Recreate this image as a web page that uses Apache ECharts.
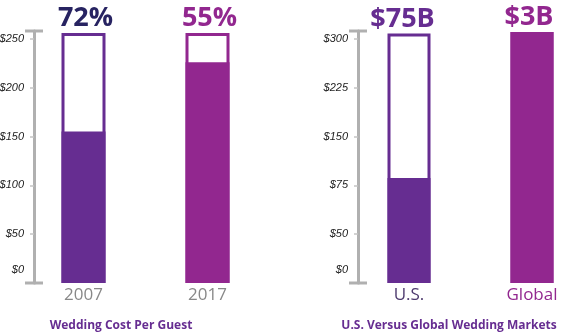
<!DOCTYPE html>
<html>
<head>
<meta charset="utf-8">
<script src="https://cdn.jsdelivr.net/npm/echarts@6/dist/echarts.min.js"></script>
<style>html,body{margin:0;padding:0;background:#fff}#c{width:563px;height:333px}</style>
</head>
<body>
<div id="c"></div>
<script>
// ---- Left panel: Wedding Cost Per Guest ($ scale) ----
var costCategories = ['2007', '2017'];
var costFilled = [155, 226];
var costOutline = [256, 256];
var costTopLabels = ['72%', '55%'];
var costTicks = [0, 50, 100, 150, 200, 250];
var costTickLabels = ['$0', '$50', '$100', '$150', '$200', '$250'];

// ---- Right panel: U.S. vs Global (axis labels placed at even steps) ----
var marketCategories = ['U.S.', 'Global'];
var marketFilled = [2.15, 5.14];
var marketOutline = [5.11, 5.14];
var marketTopLabels = ['$75B', '$3B'];
var marketTicks = [0, 1, 2, 3, 4, 5];
var marketTickLabels = ['$0', '$50', '$75', '$150', '$225', '$300'];

var titles = ['Wedding Cost Per Guest', 'U.S. Versus Global Wedding Markets'];

var DARK = '#662d91', MAG = '#92278f', NAVY = '#272361';
var costColors = [DARK, MAG];
var costLabelColors = [NAVY, MAG];
var marketColors = [DARK, MAG];
var marketLabelColors = [DARK, MAG];
var marketCatColors = ['#4d3a6e', MAG];
var costLabelOffsets = [[2, 0], [2, 0]];
var marketLabelOffsets = [[-6.5, 0], [-3, 0]];

var tickFont = { color: '#222', fontStyle: 'italic', fontFamily: 'Liberation Sans', fontSize: 11 };

function yAxisCfg(gridIndex, max, ticks, labels, offset) {
  return {
    type: 'value', gridIndex: gridIndex, min: 0, max: max, offset: offset,
    splitLine: { show: false },
    axisLine: { show: true, lineStyle: { color: '#b0b0b0', width: 3 }, symbol: ['rect', 'rect'], symbolSize: [18, 3] },
    axisTick: { show: true, customValues: ticks, length: 4, lineStyle: { color: '#c4c4c4', width: 1.5 } },
    axisLabel: Object.assign({
      customValues: ticks, margin: 10,
      rich: { up: Object.assign({ padding: [0, 0, 26, 0] }, tickFont) },
      formatter: function (v) {
        var i = ticks.indexOf(v);
        if (i < 0) return '';
        return i === 0 ? '{up|' + labels[i] + '}' : labels[i];
      }
    }, tickFont)
  };
}
function xAxisCfg(gridIndex, cats, colors) {
  return {
    type: 'category', gridIndex: gridIndex,
    data: cats.map(function (c, i) { return { value: c, textStyle: { color: colors[i] } }; }),
    axisLine: { show: false }, axisTick: { show: false },
    axisLabel: { margin: 4, fontFamily: 'Open Sans', fontSize: 17 }
  };
}
function outlineSeries(axisIdx, vals, colors, labels, labelColors, offsets, bw) {
  return {
    type: 'bar', xAxisIndex: axisIdx, yAxisIndex: axisIdx, barWidth: bw, z: 2,
    data: vals.map(function (v, i) {
      return {
        value: v,
        itemStyle: { color: '#fff', borderColor: colors[i], borderWidth: 3 },
        label: { show: true, position: 'top', distance: 1, offset: offsets[i], formatter: labels[i],
          color: labelColors[i], fontFamily: 'Open Sans', fontWeight: 'bold', fontSize: 27 }
      };
    })
  };
}
function fillSeries(axisIdx, vals, colors, bw) {
  return {
    type: 'bar', xAxisIndex: axisIdx, yAxisIndex: axisIdx, barWidth: bw, barGap: '-100%', z: 3,
    data: vals.map(function (v, i) { return { value: v, itemStyle: { color: colors[i] } }; })
  };
}

var titleStyle = { color: DARK, fontFamily: 'Open Sans', fontWeight: 'bold', fontSize: 12 };

var chart = echarts.init(document.getElementById('c'), null, { renderer: 'canvas' });
chart.setOption({
  animation: false,
  title: [
    { text: titles[0], left: 116, top: 315, textAlign: 'center', textStyle: titleStyle },
    { text: titles[1], left: 444, top: 315, textAlign: 'center', textStyle: titleStyle }
  ],
  grid: [
    { left: 21.5, width: 248, top: 31, height: 252, outerBoundsMode: 'none', containLabel: false },
    { left: 347.5, width: 246, top: 31, height: 252, outerBoundsMode: 'none', containLabel: false }
  ],
  xAxis: [xAxisCfg(0, costCategories, ['#888', '#888']), xAxisCfg(1, marketCategories, marketCatColors)],
  yAxis: [
    yAxisCfg(0, 258, costTicks, costTickLabels, -12.5),
    yAxisCfg(1, 5.16, marketTicks, marketTickLabels, -10.5)
  ],
  series: [
    outlineSeries(0, costOutline, costColors, costTopLabels, costLabelColors, costLabelOffsets, 44),
    fillSeries(0, costFilled, costColors, 44),
    outlineSeries(1, marketOutline, marketColors, marketTopLabels, marketLabelColors, marketLabelOffsets, 43),
    fillSeries(1, marketFilled, marketColors, 43)
  ]
});
</script>
</body>
</html>
